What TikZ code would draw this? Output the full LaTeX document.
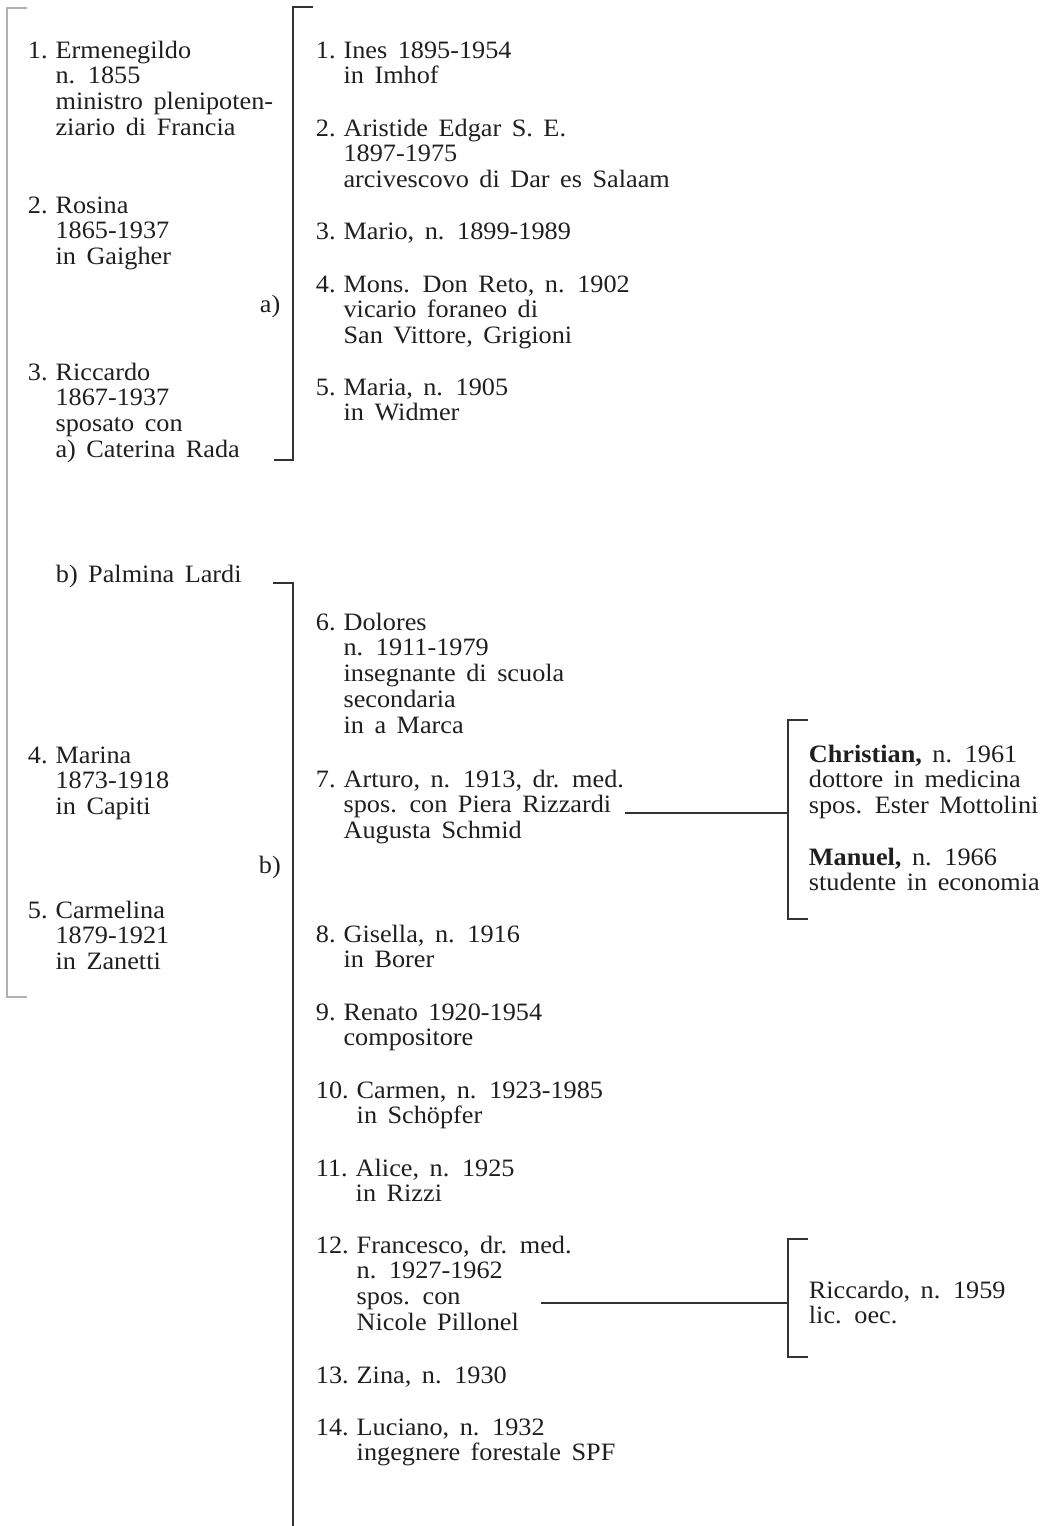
\documentclass[tikz,border=0pt]{standalone}
\usepackage{fontspec}
\setmainfont[FakeStretch=1.05,WordSpace=1.6]{Liberation Serif}
\usetikzlibrary{positioning}
\newcommand{\lines}[1]{\begin{tabular}[t]{@{}l@{}}#1\end{tabular}}
\newcommand{\nr}[2]{#1\hspace{4pt}\lines{#2}}
\tikzset{every picture/.style={line width=0.9pt}}
\tikzset{entry/.style={anchor=base west, inner sep=0pt, text=black!88,
    font=\fontsize{12.5}{12.9}\selectfont},
  bracket/.style={draw=black!80},
  faint/.style={draw=black!30}}

\begin{document}
\begin{tikzpicture}[x=0.5pt,y=-0.5pt]
  \useasboundingbox (0,0) rectangle (1047,1526);

  \node [entry] (l1) at (27,58) {\nr{1.}{Ermenegildo\\n. 1855\\ministro plenipoten-\\ziario di Francia}};
  \node [entry] (l2) at (27,213) {\nr{2.}{Rosina\\1865-1937\\in Gaigher}};
  \node [entry] (la) at (259,312) {a)};
  \node [entry] (l3) at (27,380) {\nr{3.}{Riccardo\\1867-1937\\sposato con\\a) Caterina Rada}};
  \node [entry] (lpal) at (55,582) {b) Palmina Lardi};
  \node [entry] (l4) at (27,763) {\nr{4.}{Marina\\1873-1918\\in Capiti}};
  \node [entry] (lb) at (258,873) {b)};
  \node [entry] (l5) at (27,918) {\nr{5.}{Carmelina\\1879-1921\\in Zanetti}};

  \node [entry] (m1) at (315,58) {\nr{1.}{Ines 1895-1954\\in Imhof}};
  \node [entry] (m2) at (315,136) {\nr{2.}{Aristide Edgar S. E.\\1897-1975\\arcivescovo di Dar es Salaam}};
  \node [entry] (m3) at (315,239) {\nr{3.}{Mario, n. 1899-1989}};
  \node [entry] (m4) at (315,292) {\nr{4.}{Mons. Don Reto, n. 1902\\vicario foraneo di\\San Vittore, Grigioni}};
  \node [entry] (m5) at (315,395) {\nr{5.}{Maria, n. 1905\\in Widmer}};

  \node [entry] (m6) at (315,630) {\nr{6.}{Dolores\\n. 1911-1979\\insegnante di scuola\\secondaria\\in a Marca}};
  \node [entry] (m7) at (315,787) {\nr{7.}{Arturo, n. 1913, dr. med.\\spos. con Piera Rizzardi\\Augusta Schmid}};
  \node [entry] (m8) at (315,942) {\nr{8.}{Gisella, n. 1916\\in Borer}};
  \node [entry] (m9) at (315,1020) {\nr{9.}{Renato 1920-1954\\compositore}};
  \node [entry] (m10) at (315,1098) {\nr{10.}{Carmen, n. 1923-1985\\in Schöpfer}};
  \node [entry] (m11) at (315,1176) {\nr{11.}{Alice, n. 1925\\in Rizzi}};
  \node [entry] (m12) at (315,1253) {\nr{12.}{Francesco, dr. med.\\n. 1927-1962\\spos. con\\Nicole Pillonel}};
  \node [entry] (m13) at (315,1383) {\nr{13.}{Zina, n. 1930}};
  \node [entry] (m14) at (315,1435) {\nr{14.}{Luciano, n. 1932\\ingegnere forestale SPF}};

  \node [entry] (r1) at (808,762) {\lines{\textbf{Christian,} n. 1961\\dottore in medicina\\spos. Ester Mottolini}};
  \node [entry] (r2) at (808,865) {\lines{\textbf{Manuel,} n. 1966\\studente in economia}};
  \node [entry] (r3) at (808,1298) {\lines{Riccardo, n. 1959\\lic. oec.}};

  \draw [faint] (27,8) -- (7,8) -- (7,997) -- (27,997);
  \draw [bracket] (313,7) -- (293,7) -- (293,460) -- (274,460);
  \draw [bracket] (273,583) -- (293,583) -- (293,1526);
  \draw [bracket] (808,720) -- (788,720) coordinate (c7) -- (788,919) -- (808,919);
  \draw [bracket] (808,1239) -- (788,1239) -- (788,1357) -- (808,1357);

  \coordinate (k7) at (625,813);
  \coordinate (b7) at (788,813);
  \coordinate (k12) at (541,1303);
  \coordinate (b12) at (788,1303);
  \draw [bracket] (k7) -- (b7);
  \draw [bracket] (k12) -- (b12);
\end{tikzpicture}
\end{document}
